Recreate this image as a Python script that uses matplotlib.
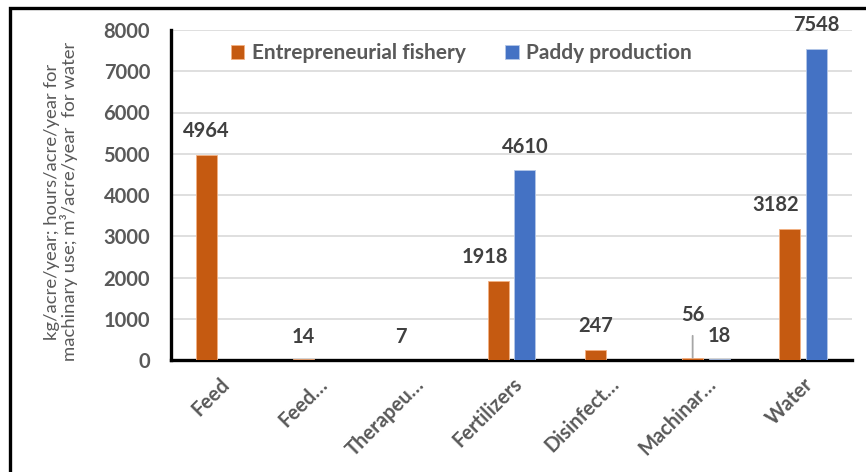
import numpy as np
import matplotlib
matplotlib.use("Agg")
import matplotlib.pyplot as plt
from matplotlib.patches import Rectangle

# --- data -------------------------------------------------------------
categories = ["Feed", "Feed…", "Therapeu…", "Fertilizers", "Disinfect…", "Machinar…", "Water"]
fishery = [4964, 14, 7, 1918, 247, 56, 3182]
paddy = [0, 0, 0, 4610, 0, 18, 7548]
fishery_labels = ["4964", "14", "7", "1918", "247", "56", "3182"]
paddy_labels = [None, None, None, "4610", None, "18", "7548"]
y_ticks = [0, 1000, 2000, 3000, 4000, 5000, 6000, 7000, 8000]

# label nudges in pixels (dx, dy of label centre above bar top) -- Excel moved some
fishery_nudge = [(0, 24), (0, 22), (0, 23), (-13, 24), (0, 24), (0, 43), (-14, 24)]
paddy_nudge = [None, None, None, (0, 23), None, (0, 23), (0, 24)]

ORANGE = "#C55A11"
BLUE = "#4472C4"
GREY = "#595959"
LABEL = "#404040"
FS = 14.5

plt.rcParams["font.family"] = ["Lato", "DejaVu Sans"]

fig = plt.figure(figsize=(8.66, 4.72), dpi=100)
ax = fig.add_axes([171 / 866, 1 - 360 / 472, 681 / 866, 330 / 472])

x = np.arange(len(categories))
w = 0.216
off = 0.138
ax.bar(x - off, fishery, w, color=ORANGE, edgecolor="#F4B183", linewidth=0.6,
       label="Entrepreneurial fishery", zorder=3)
ax.bar(x + off, paddy, w, color=BLUE, edgecolor="#B4C7E7", linewidth=0.6,
       label="Paddy production", zorder=3)

px = 0.72  # pixels -> points at dpi 100


def put_labels(xs, vals, labels, nudges):
    for xi, v, lab, nd in zip(xs, vals, labels, nudges):
        if lab is None:
            continue
        dx, dy = nd
        arrow = None
        if lab == "56":
            # leader line drawn by Excel for the displaced label
            arrow = dict(arrowstyle="-", color="#A6A6A6", lw=1.3,
                         shrinkA=6, shrinkB=0)
        ax.annotate(lab, xy=(xi, v), xytext=(dx * px, dy * px),
                    textcoords="offset points", ha="center", va="center",
                    fontsize=FS, fontweight="bold", color=LABEL,
                    arrowprops=arrow, zorder=4, annotation_clip=False)


put_labels(x - off, fishery, fishery_labels, fishery_nudge)
put_labels(x + off, paddy, paddy_labels, paddy_nudge)

ax.set_xlim(-0.5, len(categories) - 0.5)
ax.set_ylim(0, 8000)
ax.set_yticks(y_ticks)
ax.set_yticklabels([str(t) for t in y_ticks], fontsize=FS, fontweight="bold", color=GREY)
ax.set_xticks(x)
ax.set_xticklabels(categories, rotation=45, ha="right", rotation_mode="anchor",
                   fontsize=FS, fontweight="bold", color=GREY)
ax.tick_params(axis="both", length=0)
ax.tick_params(axis="y", pad=15)
ax.tick_params(axis="x", pad=10)

ax.grid(axis="y", color="#D9D9D9", linewidth=1.2, zorder=0)
ax.set_axisbelow(True)
for s in ["top", "right"]:
    ax.spines[s].set_visible(False)
for s in ["left", "bottom"]:
    ax.spines[s].set_linewidth(2.4)
    ax.spines[s].set_color("black")

ax.set_ylabel("kg/acre/year; hours/acre/year for\nmachinary use; m³/acre/year  for water",
              fontsize=13.3, color=GREY, linespacing=1.0)
ax.yaxis.set_label_coords(-0.137, 0.48)

leg = ax.legend(loc="center", bbox_to_anchor=(0.426, 0.930), ncol=2, frameon=False,
                prop={"size": FS + 0.5, "weight": "bold"},
                handlelength=0.65, handleheight=0.65, handletextpad=0.35,
                columnspacing=1.9, borderaxespad=0)
for t in leg.get_texts():
    t.set_color(GREY)

# outer frame (only left and top edges visible in the crop)
fig.add_artist(Rectangle((10 / 866, -0.2), 1.2, 1.2 - 8 / 472,
                         transform=fig.transFigure, fill=False,
                         edgecolor="black", linewidth=2.4, clip_on=False))

fig.savefig("out.png", dpi=100)
